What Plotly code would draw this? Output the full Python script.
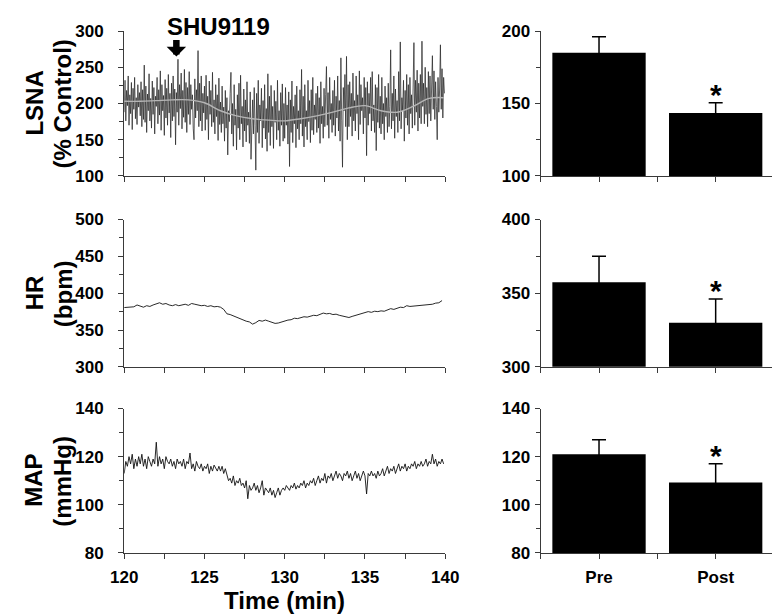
import plotly.graph_objects as go

# ---------------- data ----------------
# LSNA raw trace, 0.05-min steps from 120.00 to 139.95 (% control)
lsna_t0, lsna_dt = 120.0, 0.05
lsna_vals = [
    188, 232, 176, 218, 197, 238, 170, 212, 186, 229, 164, 221, 192, 236, 179, 208, 171, 226, 195, 215,
    183, 230, 168, 219, 178, 253, 174, 224, 160, 213, 190, 241, 176, 207, 166, 231, 185, 222, 158, 210,
    196, 236, 172, 219, 184, 245, 163, 226, 190, 211, 156, 233, 180, 221, 170, 240, 187, 214, 153, 228,
    176, 238, 182, 220, 143, 215, 188, 261, 170, 226, 193, 242, 165, 218, 181, 247, 174, 229, 160, 222,
    185, 244, 171, 226, 192, 212, 166, 150, 234, 180, 219, 190, 273, 168, 228, 176, 238, 162, 214, 187,
    224, 163, 239, 178, 210, 150, 231, 185, 218, 168, 243, 174, 205, 158, 226, 182, 212, 149, 235, 171,
    202, 160, 224, 172, 195, 148, 218, 166, 208, 129, 190, 175, 214, 243, 158, 200, 141, 226, 170, 192,
    136, 212, 166, 228, 150, 239, 172, 196, 140, 220, 162, 205, 147, 230, 170, 188, 145, 216, 123, 198,
    205, 158, 222, 170, 108, 214, 160, 232, 145, 198, 176, 221, 139, 204, 166, 226, 151, 193, 134, 241,
    160, 210, 142, 225, 168, 196, 138, 218, 174, 203, 150, 232, 163, 190, 141, 215, 170, 227, 148, 200,
    152, 222, 170, 198, 144, 216, 113, 205, 160, 231, 146, 196, 172, 212, 139, 224, 165, 190, 150, 219,
    172, 247, 155, 210, 140, 226, 168, 190, 150, 232, 175, 204, 146, 219, 163, 236, 157, 198, 178, 214,
    160, 224, 166, 208, 145, 230, 172, 196, 152, 221, 168, 212, 251, 170, 215, 152, 236, 178, 200, 160,
    218, 170, 232, 155, 210, 180, 238, 162, 204, 148, 263, 176, 112, 222, 190, 240, 168, 265, 150, 226,
    168, 230, 182, 214, 155, 242, 176, 204, 162, 238, 186, 212, 150, 245, 171, 226, 190, 208, 158, 236,
    180, 222, 128, 230, 170, 214, 186, 236, 162, 244, 176, 198, 160, 226, 135, 222, 174, 240, 166, 210,
    158, 236, 172, 200, 150, 224, 182, 208, 160, 228, 168, 196, 274, 165, 214, 176, 238, 152, 220, 182,
    204, 160, 244, 176, 285, 165, 208, 190, 232, 148, 218, 180, 240, 170, 226, 158, 236, 186, 212, 166,
    224, 284, 170, 232, 188, 246, 162, 228, 180, 240, 172, 286, 196, 228, 172, 250, 185, 222, 168, 244,
    186, 238, 176, 224, 266, 192, 245, 178, 230, 196, 150, 236, 188, 220, 281, 192, 248, 180, 236, 214,
]
# smoothed LSNA trend (1-min steps)
trend_t = [120, 121, 122, 123, 124, 125, 126, 127, 128, 129, 130, 131, 132, 133, 134, 135, 136, 137, 138, 139, 139.9]
trend_v = [203, 203, 204, 205, 205, 201, 190, 183, 179, 177, 176, 179, 183, 188, 194, 197, 190, 188, 196, 207, 208]

# HR trace, 0.2-min steps (bpm)
hr_t0, hr_dt = 120.0, 0.2
hr_vals = [
    380.5, 381, 382, 381.5, 384, 382.5, 381, 383, 382, 384,
    385.5, 387, 385, 386, 384, 383, 384.5, 383, 384, 385,
    383.5, 386, 385, 384, 383, 383.5, 382, 383, 381.5, 382,
    381, 378, 372, 371, 369, 367.5, 365, 364, 362, 361,
    358, 360, 363, 362, 363.5, 362, 361, 359, 359.5, 361,
    362, 363.5, 364, 366, 365.5, 367, 368, 367.5, 369, 370,
    369.5, 371, 373, 372, 372.5, 371, 371.5, 370, 369, 368,
    367, 368.5, 370, 371.5, 372, 373.5, 375, 374, 375.5, 375,
    376, 375.5, 377, 379, 378, 379.5, 381, 380.5, 383, 382,
    382.5, 383, 382.5, 384, 383.5, 384.5, 385, 386.5, 387, 390,
]

# MAP trace, 0.1-min steps (mmHg)
map_t0, map_dt = 120.0, 0.1
map_vals = [
    113, 118, 116, 120, 117, 121, 115, 119, 116, 120, 117, 121, 116, 119, 115, 120, 118, 116, 119, 117,
    126, 116, 120, 117, 119, 115, 120, 118, 117, 119, 116, 118, 115, 119, 117, 118, 116, 119, 115, 118,
    117, 121.5, 115, 117, 114, 118, 116, 115, 117, 114, 116, 115, 117, 113, 116, 114, 116.5, 115, 114, 116,
    114, 116, 113, 115, 112, 110, 111, 109, 112, 108, 110, 109, 111, 108, 109, 107, 110, 102.5, 108, 106,
    107, 109, 106, 108, 105, 107, 110, 104, 107, 106, 105, 107, 104, 106, 103, 105, 107, 104, 106, 107,
    106, 108, 107, 106, 108, 107, 109, 106.5, 108, 107, 109, 108, 110, 107, 109, 108, 110, 109, 111, 108,
    110, 112, 109, 111, 110, 113, 109, 112, 111, 113, 110, 112, 114, 111, 113, 112, 110, 113, 112, 114,
    111, 113, 110, 112, 114, 111, 113, 110, 112, 114, 112, 104.5, 113, 112, 114, 112, 113, 111, 114, 112,
    113, 115, 112, 114, 116, 113, 115, 114, 116, 113, 115, 117, 114, 116, 115, 117, 114, 116, 115, 117,
    116, 118, 115, 117, 116, 118, 116, 117, 119, 116, 118, 117, 121, 117, 119, 116, 118, 117, 119, 117,
]

# bar summaries
groups = ["Pre", "Post"]
lsna_mean = [185, 143.5]
lsna_sem = [11, 7]
hr_mean = [357.5, 330]
hr_sem = [17.5, 16]
map_mean = [121, 109.3]
map_sem = [6, 7.7]

# event marker
drug_label = "SHU9119"
drug_time = 123.25
drug_level = 265

# ---------------- figure ----------------
def times(t0, dt, n):
    return [round(t0 + i * dt, 4) for i in range(n)]

FONT = "Liberation Sans, Arial, sans-serif"
AX = "#3a3a3a"

fig = go.Figure()

fig.add_trace(go.Scatter(x=times(lsna_t0, lsna_dt, len(lsna_vals)), y=lsna_vals, mode="lines",
                         line=dict(color="#282828", width=0.75), xaxis="x", yaxis="y"))
fig.add_trace(go.Scatter(x=trend_t, y=trend_v, mode="lines", line_shape="spline",
                         line=dict(color="#b5b5b5", width=1.4), xaxis="x", yaxis="y"))
fig.add_trace(go.Scatter(x=times(hr_t0, hr_dt, len(hr_vals)), y=hr_vals, mode="lines",
                         line=dict(color="#111", width=0.9), xaxis="x3", yaxis="y3"))
fig.add_trace(go.Scatter(x=times(map_t0, map_dt, len(map_vals)), y=map_vals, mode="lines",
                         line=dict(color="#111", width=0.9), xaxis="x5", yaxis="y5"))

for means, sems, xa, ya in [(lsna_mean, lsna_sem, "x2", "y2"),
                            (hr_mean, hr_sem, "x4", "y4"),
                            (map_mean, map_sem, "x6", "y6")]:
    fig.add_trace(go.Bar(x=[0, 1], y=means, width=0.8, marker=dict(color="black", line=dict(width=0)),
                         error_y=dict(type="data", array=sems, color="black", thickness=1.5, width=7),
                         xaxis=xa, yaxis=ya))

W, H = 780, 615
rows = [(14.5, 164), (209, 361), (404, 553)]
ydom = [[1 - b / H, 1 - t / H] for t, b in rows]
left_dom = [106 / W, 439 / W]
right_dom = [538 / W, 1.0]

tickfont = dict(family=FONT, size=17, color="black", weight="bold")

def left_x(anchor, show_labels):
    return dict(domain=left_dom, anchor=anchor, range=[120, 140], tickvals=[120, 125, 130, 135, 140],
                showticklabels=show_labels, ticks="outside", ticklen=5, tickwidth=1.3, tickcolor=AX,
                showline=True, linecolor=AX, linewidth=1.3, showgrid=False, zeroline=False,
                tickfont=tickfont, ticklabelstandoff=4,
                minor=dict(dtick=2.5, tick0=120, ticks="outside", ticklen=5, tickwidth=1.3, tickcolor=AX, showgrid=False))

def right_x(anchor, show_labels):
    return dict(domain=right_dom, anchor=anchor, range=[-0.5, 1.5], tickvals=[0, 1], ticktext=groups,
                showticklabels=show_labels, ticks="outside", ticklen=5, tickwidth=1.3, tickcolor=AX,
                showline=True, linecolor=AX, linewidth=1.3, showgrid=False, zeroline=False,
                tickfont=tickfont, ticklabelstandoff=4,
                minor=dict(tickvals=[-0.5, 0.5, 1.5], ticks="outside", ticklen=5, tickwidth=1.3, tickcolor=AX, showgrid=False))

def yax(dom, anchor, rng, dtick, minor, standoff):
    return dict(domain=dom, anchor=anchor, range=rng, dtick=dtick, tick0=rng[0],
                ticks="outside", ticklen=5, tickwidth=1.3, tickcolor=AX,
                showline=True, linecolor=AX, linewidth=1.3, showgrid=False, zeroline=False,
                tickfont=tickfont, ticklabelstandoff=standoff,
                minor=dict(dtick=minor, tick0=rng[0], ticks="outside", ticklen=4, tickwidth=1.3, tickcolor=AX, showgrid=False))

fig.update_layout(
    width=W, height=H, autosize=False, showlegend=False,
    margin=dict(l=0, r=0, t=0, b=0, pad=0), paper_bgcolor="white", plot_bgcolor="white",
    xaxis=left_x("y", False), yaxis=yax(ydom[0], "x", [100, 300], 50, 25, 11),
    xaxis2=right_x("y2", False), yaxis2=yax(ydom[0], "x2", [100, 200], 50, 25, 1),
    xaxis3=left_x("y3", False), yaxis3=yax(ydom[1], "x3", [300, 500], 50, 25, 11),
    xaxis4=right_x("y4", False), yaxis4=yax(ydom[1], "x4", [300, 400], 50, 25, 1),
    xaxis5=left_x("y5", True), yaxis5=yax(ydom[2], "x5", [80, 140], 20, 10, 11),
    xaxis6=right_x("y6", True), yaxis6=yax(ydom[2], "x6", [80, 140], 20, 10, 1),
)

title_font = dict(family=FONT, size=24, color="black")
ann = []
for (t, b), (l1, l2) in zip(rows, [("LSNA", "(% Control)"), ("HR", "(bpm)"), ("MAP", "(mmHg)")]):
    yc = 1 - ((t + b) / 2) / H
    for txt, xc in [(l1, 12.5), (l2, 42.5)]:
        ann.append(dict(text="<b>" + txt + "</b>", x=xc / W, y=yc, xref="paper", yref="paper",
                        xanchor="center", yanchor="middle", textangle=-90, showarrow=False, font=title_font))
ann.append(dict(text="<b>Time (min)</b>", x=272 / W, y=1 - 602 / H, xref="paper", yref="paper",
                xanchor="center", yanchor="middle", showarrow=False, font=title_font))
ann.append(dict(text="<b>" + drug_label + "</b>", x=204 / W, y=1 - 10 / H, xref="paper", yref="paper",
                xanchor="center", yanchor="middle", showarrow=False, font=title_font))
ann.append(dict(text="", x=drug_time, y=drug_level, xref="x", yref="y", showarrow=True,
                ax=0, ay=-18, arrowhead=1, arrowsize=0.5, arrowwidth=6.5, arrowcolor="black", standoff=0))
for means, sems, xa, ya in [(lsna_mean, lsna_sem, "x2", "y2"),
                            (hr_mean, hr_sem, "x4", "y4"),
                            (map_mean, map_sem, "x6", "y6")]:
    ann.append(dict(text="<b>*</b>", x=1, y=means[1] + sems[1], xref=xa, yref=ya, xanchor="center", yanchor="bottom",
                    yshift=-10, showarrow=False, font=dict(family=FONT, size=30, color="black")))
fig.update_layout(annotations=ann)

fig.write_html("out.html")
